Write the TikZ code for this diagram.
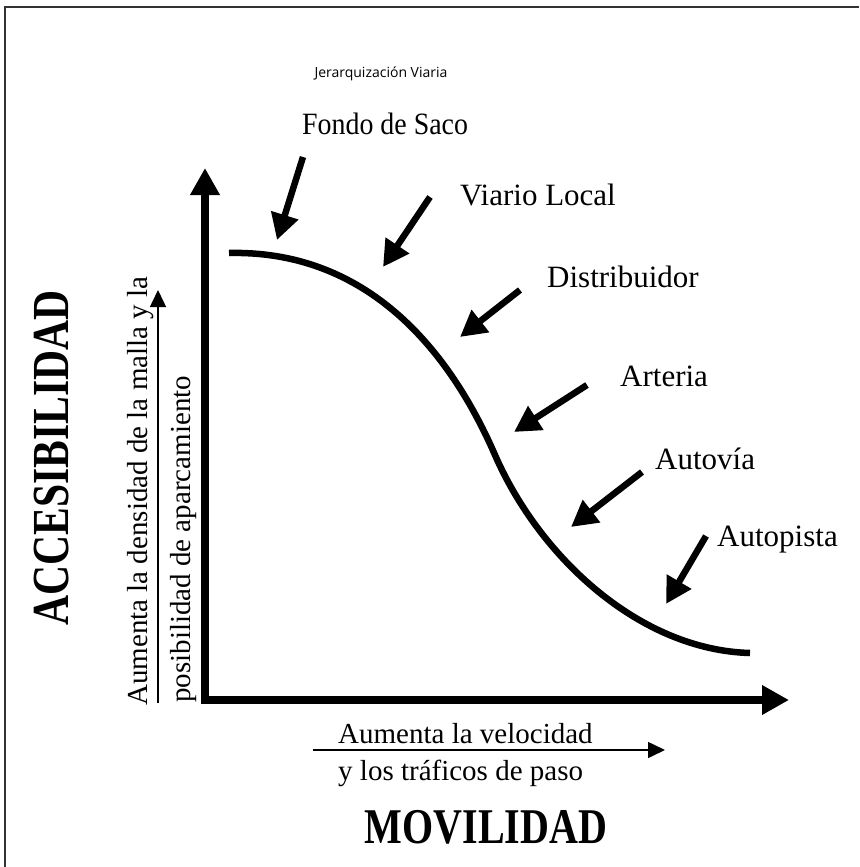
\documentclass[tikz,border=0pt]{standalone}
\usepackage{fontspec}
\usepackage{graphicx}
\setmainfont{Liberation Serif}
\newfontfamily\titlefont{Open Sans}
\usetikzlibrary{arrows.meta}
\begin{document}
\begin{tikzpicture}[x=1pt,y=-1pt,
  lbl/.style={font=\fontsize{31}{37}\selectfont, anchor=base west, inner sep=0pt},
  big/.style={font=\fontsize{40}{48}\selectfont\bfseries, inner sep=0pt},
  sub/.style={font=\fontsize{29}{34}\selectfont, inner sep=0pt},
  ptr/.style={line width=6.5pt, -{Triangle[length=26pt,width=27pt]}},
  thinarrow/.style={line width=1.5pt, -{Triangle[length=17pt,width=16pt]}},
  axis/.style={line width=8pt, line join=miter, {Triangle[length=27pt,width=28pt]}-{Triangle[length=27pt,width=28pt]}},
  curvestyle/.style={line width=6.5pt, line cap=butt}
]
\useasboundingbox (0,0) rectangle (859,867);
\draw[line width=2pt, black!80] (5,867) -- (5,7) -- (859,7);

\node[font=\titlefont\fontsize{14}{16}\selectfont, inner sep=0pt] (title) at (381,74) {Jerarquización Viaria};
\node[lbl] (fondo) at (302,134) {\scalebox{0.9}[1]{Fondo de Saco}};
\node[lbl] (viario) at (460,205) {Viario Local};
\node[lbl] (distr) at (547,287) {Distribuidor};
\node[lbl] (arteria) at (620,386) {Arteria};
\node[lbl] (autovia) at (655,469) {Autovía};
\node[lbl] (autopista) at (717,546) {Autopista};

\coordinate (ytip) at (205,168);
\coordinate (o) at (205,700);
\coordinate (xtip) at (789,700);
\draw[axis] (ytip) -- (o) -- (xtip);

\coordinate (c0) at (229,253);
\coordinate (cm) at (495,455);
\coordinate (c1) at (750,653);
\draw[curvestyle] (c0) .. controls (360,250) and (445,340) .. (cm)
                       .. controls (540,558) and (640,650) .. (c1);

\coordinate (f0) at (303,157); \coordinate (f1) at (277,240);
\coordinate (v0) at (430,197); \coordinate (v1) at (383,267);
\coordinate (d0) at (520,290); \coordinate (d1) at (460,337);
\coordinate (a0) at (587,385); \coordinate (a1) at (514,432);
\coordinate (w0) at (642,472); \coordinate (w1) at (571,527);
\coordinate (p0) at (706,536); \coordinate (p1) at (666,604);
\draw[ptr] (f0) -- (f1);
\draw[ptr] (v0) -- (v1);
\draw[ptr] (d0) -- (d1);
\draw[ptr] (a0) -- (a1);
\draw[ptr] (w0) -- (w1);
\draw[ptr] (p0) -- (p1);

\node[big, rotate=90, anchor=base] (acc) at (68,458) {\scalebox{1.04}[1.3]{ACCESIBILIDAD}};
\node[sub, rotate=90, anchor=base west] (vl1) at (147,706) {Aumenta la densidad de la malla y la};
\node[sub, rotate=90, anchor=base west] (vl2) at (190,703) {posibilidad de aparcamiento};
\coordinate (va0) at (158,703); \coordinate (va1) at (158,290);
\draw[thinarrow] (va0) -- (va1);

\node[sub, anchor=base west] (hl1) at (338,743) {Aumenta la velocidad};
\coordinate (ha0) at (313,750); \coordinate (ha1) at (665,750);
\draw[thinarrow] (ha0) -- (ha1);
\node[sub, anchor=base west] (hl2) at (338,780) {y los tráficos de paso};
\node[big, anchor=base] (mov) at (486,843) {\scalebox{1}[1.25]{MOVILIDAD}};
\end{tikzpicture}
\end{document}
